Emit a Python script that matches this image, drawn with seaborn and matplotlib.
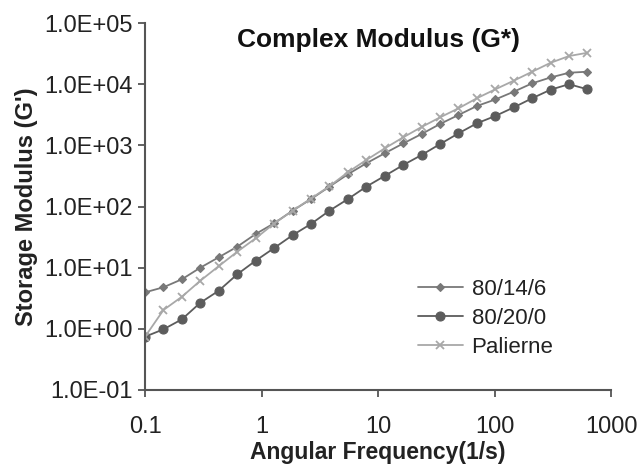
import matplotlib
matplotlib.use("Agg")
import matplotlib.pyplot as plt
import numpy as np
import pandas as pd
import seaborn as sns
from matplotlib.ticker import FuncFormatter, FixedLocator, NullLocator

# angular frequency (rad/s)
freq = [0.1, 0.1439, 0.2072, 0.2983, 0.4295, 0.6183, 0.8901, 1.281, 1.845,
        2.656, 3.824, 5.506, 7.925, 11.41, 16.42, 23.65, 34.04, 49.01,
        70.55, 101.6, 146.2, 210.5, 303.0, 436.3, 628.1]

# storage modulus for each blend
g_80_14_6 = [3.95, 4.78, 6.46, 10.0, 14.8, 22.0, 35.5, 53.1, 85.3, 132, 211,
             336, 508, 741, 1072, 1531, 2234, 3133, 4395, 5623, 7534, 10330,
             12880, 15380, 16000]
g_80_20_0 = [0.743, 0.982, 1.43, 2.67, 4.20, 7.78, 13.0, 20.9, 33.9, 51.8,
             85.3, 132, 211, 316, 476, 695, 1047, 1570, 2291, 3020, 4169,
             5888, 8128, 10000, 8241]
g_palierne = [0.743, 2.03, 3.35, 6.12, 10.6, 18.2, 30.2, 52.5, 85.1, 135,
              214, 363, 575, 891, 1349, 1995, 2864, 4027, 5888, 8241, 11400,
              16000, 22390, 28840, 32660]

series_names = ["80/14/6", "80/20/0", "Palierne"]
x_ticks = [0.1, 1, 10, 100, 1000]
x_tick_labels = ["0.1", "1", "10", "100", "1000"]
y_ticks = [1e-1, 1e0, 1e1, 1e2, 1e3, 1e4, 1e5]

sns.set_style("white")
plt.rcParams['font.family'] = ['Liberation Sans', 'DejaVu Sans']

fig = plt.figure(figsize=(6.4, 4.66), dpi=100)
ax = fig.add_axes([0.2266, 0.1631, 0.7281, 0.7875])

# one call per series so each keeps its own marker look
styles = {
    "80/14/6": dict(color="#787878", marker="D", markersize=4.2),
    "80/20/0": dict(color="#5c5c5c", marker="o", markersize=6.5),
    "Palierne": dict(color="#a8a8a8", marker="x", markersize=5.5, markeredgewidth=1.3),
}
values = [g_80_14_6, g_80_20_0, g_palierne]
for name, vals in zip(series_names, values):
    df = pd.DataFrame({"freq": freq, "G": vals})
    st = styles[name]
    sns.lineplot(data=df, x="freq", y="G", ax=ax, label=name,
                 color=st["color"], marker=st["marker"],
                 markersize=st["markersize"],
                 markeredgewidth=st.get("markeredgewidth", 0.8),
                 markeredgecolor=st["color"], linewidth=1.3)

ax.set_xscale("log")
ax.set_yscale("log")
ax.set_xlim(0.1, 1000)
ax.set_ylim(1e-1, 1e5)

ax.xaxis.set_major_locator(FixedLocator(x_ticks))
ax.set_xticklabels(x_tick_labels)
ax.xaxis.set_minor_locator(NullLocator())
ax.yaxis.set_major_locator(FixedLocator(y_ticks))
ax.yaxis.set_minor_locator(NullLocator())
ax.yaxis.set_major_formatter(FuncFormatter(
    lambda v, p: "1.0E{:+03d}".format(int(round(np.log10(v))))))

for side in ["top", "right"]:
    ax.spines[side].set_visible(False)
for side in ["left", "bottom"]:
    ax.spines[side].set_color("#555555")
    ax.spines[side].set_linewidth(1.5)

ax.tick_params(axis="both", which="major", direction="out", length=5,
               width=1.3, color="#555555", labelsize=17, labelcolor="#222222",
               left=True, bottom=True, pad=4)
ax.tick_params(axis="x", pad=13.5)

ax.set_xlabel("Angular Frequency(1/s)", fontsize=16.5, fontweight="bold",
              color="#222222", va="baseline")
ax.set_ylabel("Storage Modulus (G')", fontsize=17, fontweight="bold", color="#222222")
ax.xaxis.set_label_coords(0.5, -0.188)
ax.yaxis.set_label_coords(-0.230, 0.5)

ax.text(0.5, 0.987, "Complex Modulus (G*)", transform=ax.transAxes,
        ha="center", va="top", fontsize=19, fontweight="bold", color="#111111")

leg = ax.legend(loc="lower left", bbox_to_anchor=(0.553, 0.045), frameon=False,
                fontsize=16, handlelength=2.0, handletextpad=0.4,
                labelspacing=0.36, borderpad=0.2)
for txt in leg.get_texts():
    txt.set_color("#222222")

fig.savefig("out.png", dpi=100)
